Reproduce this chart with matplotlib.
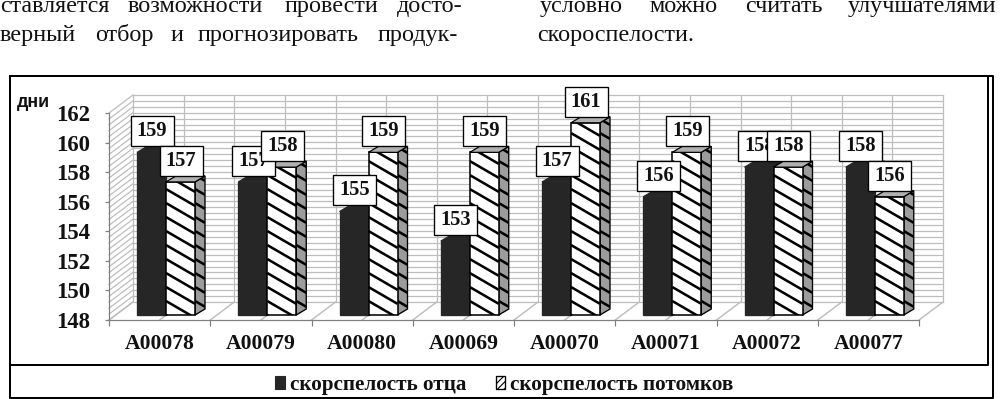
import matplotlib
matplotlib.use("Agg")
import numpy as np
import matplotlib.pyplot as plt
from matplotlib.patches import Patch
from matplotlib.path import Path

categories = ["A00078", "A00079", "A00080", "A00069", "A00070", "A00071", "A00072", "A00077"]
father = [159, 157, 155, 153, 157, 156, 158, 158]
offspring = [157, 158, 159, 159, 161, 159, 158, 156]
y_ticks = [148, 150, 152, 154, 156, 158, 160, 162]
series_names = ["скорспелость отца", "скорспелость потомков"]

# page text around the chart: (word, left pixel, baseline pixel)
page_words = [
    ("ставляется", 0, 12), ("возможности", 128, 12), ("провести", 285, 12), ("досто-", 397, 12),
    ("верный", 0, 41), ("отбор", 95, 41), ("и", 171, 41), ("прогнозировать", 198, 41), ("продук-", 378, 41),
    ("условно", 540, 12), ("можно", 649, 12), ("считать", 745, 12), ("улучшателями", 848, 12),
    ("скороспелости.", 537, 41),
]

W, H = 1003, 399
DPI = 80
SERIF = "Liberation Serif"

fig = plt.figure(figsize=(W / DPI, H / DPI), dpi=DPI, facecolor="white")

# page layer, in pixels
page = fig.add_axes([0, 0, 1, 1])
page.set_xlim(0, W)
page.set_ylim(H, 0)
page.axis("off")
for word, px, py in page_words:
    page.text(px, py, word, family=SERIF, fontsize=21.7, color="#111111", ha="left", va="baseline")
page.plot([10, 10, 993, 993, 10], [76, 398, 398, 76, 76], color="black", lw=1.8)
page.plot([10, 988, 988], [365, 365, 76], color="black", lw=1.8)

# chart layer, front plane of the 3d box
ax = fig.add_axes([109 / W, 1 - 320 / H, 810 / W, 207 / H])
ax.set_xlim(0, 8)
ax.set_ylim(148, 162)
ax.patch.set_alpha(0)

px_x = 101.25
px_y = 14.79
depth_x = 24 / px_x
depth_y = 18 / px_y
GRID = "#bdbdbd"

# walls and floor
for v in np.arange(148, 162.01, 0.4):
    ax.plot([depth_x, 8 + depth_x], [v + depth_y, v + depth_y], color=GRID, lw=1.1, clip_on=False, zorder=1)
    ax.plot([0, depth_x], [v, v + depth_y], color=GRID, lw=1.1, clip_on=False, zorder=1)
for c in np.arange(0, 8.01, 0.5):
    ax.plot([c + depth_x, c + depth_x], [148 + depth_y, 162 + depth_y], color=GRID, lw=1.1, clip_on=False, zorder=1)
    ax.plot([c, c + depth_x], [148, 148 + depth_y], color=GRID, lw=1.3, clip_on=False, zorder=1)

# bars
bar_w = 29 / px_x
bar_start = 28 / px_x
lift = 5 / px_y
side_x = 10 / px_x
side_y = 6 / px_y
DARK = "#262626"
stripe_slope = 0.58 * px_x / px_y
stripe_gap = 14 / px_y


def add_stripes(shape, left, right, low, high, z):
    drop = stripe_slope * (right - left)
    for c in np.arange(low, high + drop + stripe_gap, stripe_gap):
        line = ax.plot([left, right], [c, c - drop], color="black", lw=2.3, solid_capstyle="butt", zorder=z)[0]
        line.set_clip_path(shape)


def draw_solid(left, value, z):
    top = value + lift
    base = 148 + lift
    right = left + bar_w
    ax.bar(left, value - 148, bottom=base, width=bar_w, align="edge", color=DARK, edgecolor=DARK,
           linewidth=1.2, clip_on=False, zorder=z)
    ax.fill([left, left + side_x, right + side_x, right], [top, top + side_y, top + side_y, top],
            facecolor=DARK, edgecolor=DARK, linewidth=1.0, clip_on=False, zorder=z)


def draw_striped(left, value, z):
    top = value + lift
    base = 148 + lift
    right = left + bar_w
    side = ax.fill([right, right + side_x, right + side_x, right], [base, base + side_y, top + side_y, top],
                   facecolor="#9c9c9c", edgecolor="none", clip_on=False, zorder=z)[0]
    add_stripes(side, right, right + side_x, base, top + side_y, z + 0.1)
    ax.fill([right, right + side_x, right + side_x, right], [base, base + side_y, top + side_y, top],
            fill=False, edgecolor="black", linewidth=1.2, clip_on=False, zorder=z + 0.2)
    front = ax.bar(left, value - 148, bottom=base, width=bar_w, align="edge", color="white",
                   clip_on=False, zorder=z + 0.3)[0]
    add_stripes(front, left, right, base, top, z + 0.4)
    ax.bar(left, value - 148, bottom=base, width=bar_w, align="edge", fill=False, edgecolor="black",
           linewidth=1.4, clip_on=False, zorder=z + 0.5)
    ax.fill([left, left + side_x, right + side_x, right], [top, top + side_y, top + side_y, top],
            facecolor="#b0b0b0", edgecolor="black", linewidth=1.1, clip_on=False, zorder=z + 0.5)


for i in range(len(categories)):
    draw_solid(i + bar_start, father[i], 3 + i)
    draw_striped(i + bar_start + bar_w, offspring[i], 3.2 + i)


def label_box(x0, y0, w, h, mutation_size):
    # every value label sits in the same 43x30 px box
    cx, cy = x0 + w / 2, y0 + h / 2
    xs = [cx - 21.5, cx + 21.5, cx + 21.5, cx - 21.5, cx - 21.5]
    ys = [cy - 15, cy - 15, cy + 15, cy + 15, cy - 15]
    return Path(np.column_stack([xs, ys]), closed=True)


# value labels, later boxes cover earlier ones
for i in range(len(categories)):
    for k, (values, shift) in enumerate([(father, 0.5), (offspring, 1.5)]):
        ax.annotate(str(values[i]), (i + bar_start + shift * bar_w, values[i] + lift), xytext=(0.5, 19),
                    textcoords="offset points", ha="center", va="center", family=SERIF,
                    fontweight="bold", fontsize=18.5, color="#111111", zorder=20 + i + k * 0.5,
                    annotation_clip=False,
                    bbox=dict(boxstyle=label_box, facecolor="white", edgecolor="black", linewidth=1.2))

# axes
for name in ["top", "right"]:
    ax.spines[name].set_visible(False)
for name in ["left", "bottom"]:
    ax.spines[name].set_color("#808080")
    ax.spines[name].set_linewidth(1.1)
    ax.spines[name].set_zorder(2)
ax.set_yticks(y_ticks)
ax.set_yticklabels([str(v) for v in y_ticks], family=SERIF, fontweight="bold", fontsize=20.5, color="#111111")
ax.tick_params(axis="y", length=4, width=1.1, color="#808080", pad=13)
ax.set_xticks(range(len(categories) + 1))
ax.set_xticklabels([])
ax.tick_params(axis="x", which="major", length=5, width=1.1, color="#808080")
ax.set_xticks(np.arange(len(categories)) + 0.5, minor=True)
ax.set_xticklabels(categories, minor=True, family=SERIF, fontweight="bold", fontsize=19.5, color="#111111")
ax.tick_params(axis="x", which="minor", length=0, pad=13)

page.text(17, 107, "дни", family="Liberation Sans", fontweight="bold", fontsize=16, color="#111111", va="baseline")

handles = [Patch(facecolor=DARK, edgecolor=DARK),
           Patch(facecolor="white", edgecolor="black", hatch="////", linewidth=1.2)]
page.legend(handles, series_names, ncol=2, loc="center", bbox_to_anchor=(504.5 / W, 1 - 385 / H), frameon=False,
            handlelength=0.44, handleheight=0.6, handletextpad=0.25, columnspacing=1.4,
            prop=dict(family=SERIF, weight="bold", size=19), labelcolor="#111111")

fig.savefig("out.png", dpi=DPI)
